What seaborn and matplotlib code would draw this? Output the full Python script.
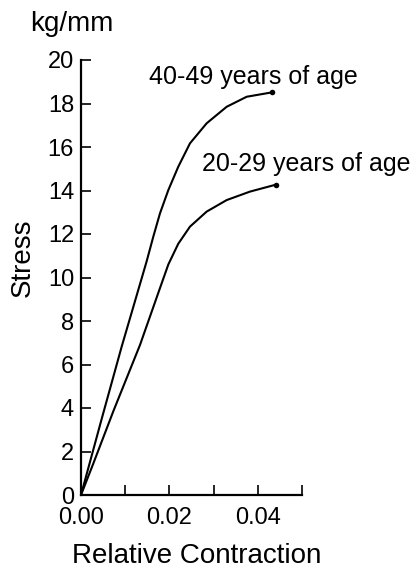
import matplotlib
matplotlib.use("Agg")
import matplotlib.pyplot as plt
import seaborn as sns
import pandas as pd

# Data
x_40_49 = [0, 0.00468, 0.0092, 0.01335, 0.01486, 0.01636, 0.01787, 0.01976, 0.0220,
           0.02466, 0.02843, 0.03296, 0.03748, 0.04314]
y_40_49 = [0, 3.5, 6.82, 9.7, 10.75, 11.88, 12.95, 14.02, 15.09,
           16.17, 17.09, 17.85, 18.31, 18.51]
x_20_29 = [0, 0.00279, 0.00731, 0.01335, 0.0175, 0.01976, 0.0220, 0.02466,
           0.02843, 0.03296, 0.03824, 0.04412]
y_20_29 = [0, 1.45, 3.85, 6.9, 9.3, 10.6, 11.55, 12.34,
           13.03, 13.56, 13.95, 14.27]
labels = ["40-49 years of age", "20-29 years of age"]
yticks = [0, 2, 4, 6, 8, 10, 12, 14, 16, 18, 20]
xticks_major = [0.00, 0.02, 0.04]
xticks_minor = [0.01, 0.03, 0.05]

sns.set_style("ticks")
plt.rcParams['font.family'] = ['Liberation Sans', 'DejaVu Sans']
plt.rcParams['text.color'] = 'black'
plt.rcParams['axes.labelcolor'] = 'black'
plt.rcParams['xtick.color'] = 'black'
plt.rcParams['ytick.color'] = 'black'

df = pd.concat([
    pd.DataFrame({"x": x_40_49, "y": y_40_49, "group": labels[0]}),
    pd.DataFrame({"x": x_20_29, "y": y_20_29, "group": labels[1]}),
])

fig = plt.figure(figsize=(4.15, 5.70), dpi=100)
ax = fig.add_axes([81/415, 1-495/570, (302-81)/415, (495-60)/570])

sns.lineplot(data=df, x="x", y="y", hue="group", palette=["black", "black"],
             linewidth=1.5, legend=False, ax=ax, sort=False,
             solid_joinstyle="round", solid_capstyle="round")
ends = pd.DataFrame({"x": [x_40_49[-1], x_20_29[-1]], "y": [y_40_49[-1], y_20_29[-1]]})
sns.scatterplot(data=ends, x="x", y="y", color="black", s=16, ax=ax, zorder=5,
                edgecolor="black", linewidth=0)

ax.text(0.0391, 18.9, labels[0], ha="center", va="baseline", fontsize=18, color="black")
ax.text(0.0509, 14.9, labels[1], ha="center", va="baseline", fontsize=18, color="black")

ax.set_xlim(0, 0.05)
ax.set_ylim(0, 20)
ax.set_yticks(yticks)
ax.set_yticklabels([str(t) for t in yticks], fontsize=17)
ax.set_xticks(xticks_major)
ax.set_xticklabels([f"{t:.2f}" for t in xticks_major], fontsize=17)
ax.set_xticks(xticks_minor, minor=True)
ax.tick_params(axis="both", which="both", direction="in", length=7.5, width=1.2,
               colors="black", labelcolor="black")
ax.tick_params(axis="x", which="both", pad=9)
ax.tick_params(axis="y", which="both", pad=5)

for s in ["top", "right"]:
    ax.spines[s].set_visible(False)
for s in ["left", "bottom"]:
    ax.spines[s].set_linewidth(1.6)
    ax.spines[s].set_color("black")

ax.set_xlabel("Relative Contraction", fontsize=20, color="black")
ax.xaxis.set_label_coords((197-81)/221, (495-543)/435)
ax.set_ylabel("Stress", fontsize=20, color="black")
ax.yaxis.set_label_coords((36-81)/221, (495-258)/435)
fig.text(30/415, 1-31/570, "kg/mm", fontsize=20, ha="left", va="baseline", color="black")

fig.savefig("out.png", dpi=100)
